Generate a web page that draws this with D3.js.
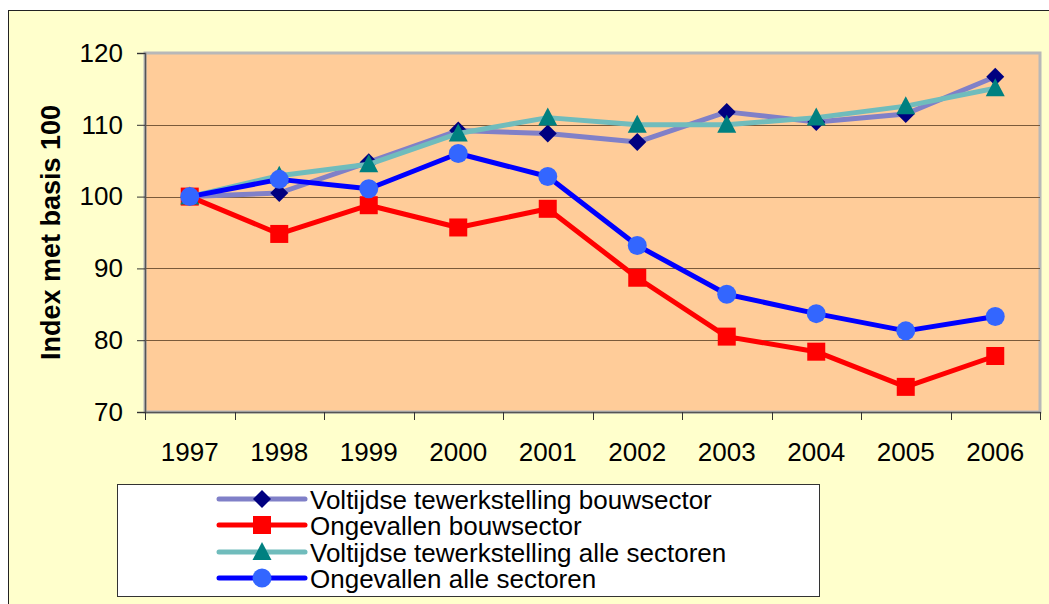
<!DOCTYPE html>
<html>
<head>
<meta charset="utf-8">
<script src="https://cdn.jsdelivr.net/npm/d3@7"></script>
<style>
  body { margin: 0; background: #fff; }
  svg { display: block; font-family: "Liberation Sans", Arial, sans-serif; }
</style>
</head>
<body>
<div id="chart"></div>
<script>
const years = ["1997", "1998", "1999", "2000", "2001", "2002", "2003", "2004", "2005", "2006"];
const yTicks = [70, 80, 90, 100, 110, 120];

const voltijdsBouw = [100, 100.5, 104.8, 109.2, 108.8, 107.6, 111.8, 110.4, 111.5, 116.7];
const ongevallenBouw = [100, 94.8, 98.8, 95.7, 98.3, 88.7, 80.5, 78.4, 73.5, 77.8];
const voltijdsAlle = [100, 102.9, 104.5, 108.8, 111, 110, 110, 111, 112.6, 115.1];
const ongevallenAlle = [100, 102.4, 101.1, 106, 102.8, 93.2, 86.4, 83.7, 81.3, 83.3];

const seriesNames = [
  "Voltijdse tewerkstelling bouwsector",
  "Ongevallen bouwsector",
  "Voltijdse tewerkstelling alle sectoren",
  "Ongevallen alle sectoren"
];

const series = [
  { name: seriesNames[0], values: voltijdsBouw, line: "#8080C8", marker: "#000080", shape: "diamond" },
  { name: seriesNames[1], values: ongevallenBouw, line: "#FF0000", marker: "#FF0000", shape: "square" },
  { name: seriesNames[2], values: voltijdsAlle, line: "#70BCBC", marker: "#008080", shape: "triangle" },
  { name: seriesNames[3], values: ongevallenAlle, line: "#0000FF", marker: "#3366FF", shape: "circle" }
];

const W = 1049, H = 604;
const FONT = "Liberation Sans, Arial, sans-serif";
const plot = { left: 145, top: 53, right: 1040, bottom: 412 };

const svg = d3.select("#chart").append("svg")
  .attr("width", W).attr("height", H);

// chart area background and border
svg.append("rect")
  .attr("x", 8.5).attr("y", 10.5)
  .attr("width", W + 10).attr("height", H + 10)
  .attr("fill", "#FFFFCC").attr("stroke", "#222").attr("stroke-width", 1);

const x = d3.scaleBand().domain(years).range([plot.left, plot.right]);
const y = d3.scaleLinear().domain([70, 120]).range([plot.bottom, plot.top]);

// plot area
svg.append("rect")
  .attr("x", plot.left).attr("y", plot.top)
  .attr("width", plot.right - plot.left).attr("height", plot.bottom - plot.top)
  .attr("fill", "#FFCC99").attr("stroke", "#B8B8B8").attr("stroke-width", 3);

// gridlines
svg.append("g")
  .selectAll("line")
  .data(yTicks.filter(d => d > 70 && d < 120))
  .join("line")
  .attr("x1", plot.left).attr("x2", plot.right)
  .attr("y1", d => Math.round(y(d)) + 0.5).attr("y2", d => Math.round(y(d)) + 0.5)
  .attr("stroke", "#7A5A3A").attr("stroke-width", 1.2);

// y axis
const yAxis = svg.append("g")
  .attr("transform", `translate(${plot.left},0)`)
  .call(d3.axisLeft(y).tickValues(yTicks).tickSize(8).tickPadding(14));
yAxis.select(".domain").attr("stroke", "#555").attr("stroke-width", 1.5);
yAxis.selectAll(".tick line").attr("stroke", "#333");
yAxis.selectAll("text").attr("font-size", 26).attr("fill", "#000").attr("font-family", FONT);

// x axis
const xAxis = svg.append("g")
  .attr("transform", `translate(0,${plot.bottom})`)
  .call(d3.axisBottom(x).tickSize(0).tickPadding(31));
xAxis.select(".domain").attr("stroke", "#555").attr("stroke-width", 1.5);
xAxis.selectAll("text").attr("font-size", 26).attr("fill", "#000").attr("font-family", FONT);
// category boundary ticks
svg.append("g")
  .selectAll("line")
  .data(years.concat(["end"]))
  .join("line")
  .attr("x1", (d, i) => Math.round(plot.left + i * x.step()) + 0.5)
  .attr("x2", (d, i) => Math.round(plot.left + i * x.step()) + 0.5)
  .attr("y1", plot.bottom).attr("y2", plot.bottom + 8)
  .attr("stroke", "#333");

// y axis title
svg.append("text")
  .attr("transform", `translate(51,${(plot.top + plot.bottom) / 2}) rotate(-90)`)
  .attr("text-anchor", "middle")
  .attr("dominant-baseline", "central")
  .attr("font-size", 27).attr("font-weight", "bold")
  .text("Index met basis 100");

const cx = d => x(d) + x.bandwidth() / 2;

function drawMarker(g, shape, color) {
  if (shape === "diamond") {
    g.append("path").attr("d", "M0,-9L9,0L0,9L-9,0Z").attr("fill", color);
  } else if (shape === "square") {
    g.append("rect").attr("x", -9).attr("y", -9).attr("width", 18).attr("height", 18).attr("fill", color);
  } else if (shape === "triangle") {
    g.append("path").attr("d", "M0,-10L9.5,8L-9.5,8Z").attr("fill", color);
  } else {
    g.append("circle").attr("r", 9.5).attr("fill", color);
  }
}

const line = d3.line().x((d, i) => cx(years[i])).y(d => y(d));

series.forEach(s => {
  const g = svg.append("g");
  g.append("path")
    .attr("d", line(s.values))
    .attr("fill", "none")
    .attr("stroke", s.line)
    .attr("stroke-width", 5)
    .attr("stroke-linejoin", "round");
  s.values.forEach((v, i) => {
    const m = g.append("g").attr("transform", `translate(${cx(years[i])},${y(v)})`);
    drawMarker(m, s.shape, s.marker);
  });
});

// legend
const legend = svg.append("g");
legend.append("rect")
  .attr("x", 117.5).attr("y", 484.5).attr("width", 702).attr("height", 112)
  .attr("fill", "#fff").attr("stroke", "#333").attr("stroke-width", 1);
const rowY = [499, 525, 552, 578];
series.forEach((s, i) => {
  const row = legend.append("g").attr("transform", `translate(0,${rowY[i]})`);
  row.append("line").attr("x1", 219).attr("x2", 305).attr("y1", 0).attr("y2", 0)
    .attr("stroke", s.line).attr("stroke-width", 5).attr("stroke-linecap", "round");
  const m = row.append("g").attr("transform", "translate(262,0)");
  drawMarker(m, s.shape, s.marker);
  row.append("text").attr("x", 310).attr("y", 10)
    .attr("font-size", 26).text(s.name);
});
</script>
</body>
</html>
